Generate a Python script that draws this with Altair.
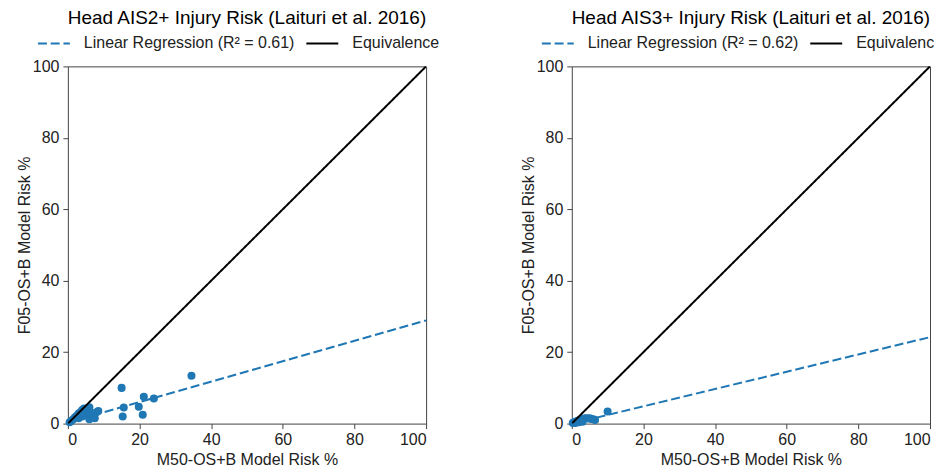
import altair as alt
import pandas as pd

# ---- data ----
ais2_x = [0.5, 1.0, 1.5, 2.0, 2.5, 3.0, 3.5, 4.0, 4.5, 5.0, 5.5, 6.0, 6.5, 7.0, 7.5, 8.0, 8.5, 5.0, 4.0, 6.0, 3.0,
          15.0, 34.5, 21.2, 24.0, 15.6, 15.3, 19.8, 20.9]
ais2_y = [0.4, 0.8, 1.2, 1.8, 2.2, 2.8, 3.2, 3.8, 4.2, 4.0, 3.5, 4.6, 3.0, 2.0, 1.5, 3.2, 3.5, 2.5, 2.0, 1.2, 1.5,
          10.0, 13.4, 7.5, 7.0, 4.5, 2.0, 4.7, 2.5]

ais3_x = [0.3, 0.7, 1.0, 1.5, 2.0, 2.5, 3.0, 3.5, 4.0, 4.5, 5.0, 5.5, 6.0, 6.5, 1.0, 2.0, 3.0, 10.0]
ais3_y = [0.2, 0.4, 0.5, 0.7, 0.9, 1.0, 1.2, 1.4, 1.5, 1.4, 1.5, 1.3, 1.2, 1.0, 0.2, 0.4, 0.5, 3.4]

line_x = [0, 100]
ais2_reg_y = [0.3, 28.9]
ais3_reg_y = [0.0, 24.2]
equiv_y = [0, 100]

titles = ["Head AIS2+ Injury Risk (Laituri et al. 2016)", "Head AIS3+ Injury Risk (Laituri et al. 2016)"]
reg_labels = ["Linear Regression (R\u00b2 = 0.61)", "Linear Regression (R\u00b2 = 0.62)"]
equiv_label = "Equivalence"
ticks = [0, 20, 40, 60, 80, 100]

BLUE = "#1f77b4"
FONT = "Liberation Sans"


def panel(px, py, reg_y, title, reg_label):
    pts = pd.DataFrame({"x": px, "y": py})
    lines = pd.DataFrame({
        "x": line_x + line_x,
        "y": reg_y + equiv_y,
        "series": [reg_label, reg_label, equiv_label, equiv_label],
    })
    xs = alt.Scale(domain=[0, 100], nice=False, zero=False)
    ys = alt.Scale(domain=[0, 100], nice=False, zero=False)
    xax = alt.Axis(values=ticks, title="M50-OS+B Model Risk %", grid=False)
    yax = alt.Axis(values=ticks, title="F05-OS+B Model Risk %", grid=False)
    leg = alt.Legend(title=None, orient="none", direction="horizontal", legendX=-31, legendY=-40)

    points = alt.Chart(pts).mark_circle(size=65, opacity=1, color=BLUE).encode(
        x=alt.X("x:Q", scale=xs, axis=xax),
        y=alt.Y("y:Q", scale=ys, axis=yax),
    )
    ln = alt.Chart(lines).mark_line(strokeWidth=2, clip=True).encode(
        x=alt.X("x:Q", scale=xs, axis=xax),
        y=alt.Y("y:Q", scale=ys, axis=yax),
        detail="series:N",
        color=alt.Color("series:N",
                        scale=alt.Scale(domain=[reg_label, equiv_label], range=[BLUE, "black"]),
                        legend=leg),
        strokeDash=alt.StrokeDash("series:N",
                                  scale=alt.Scale(domain=[reg_label, equiv_label],
                                                  range=[[9, 3.8], [1, 0]]),
                                  legend=leg),
    )
    return alt.layer(points, ln).properties(
        width=359, height=358,
        title=alt.TitleParams(title, fontSize=19, font=FONT, fontWeight="normal",
                              anchor="middle", frame="group", offset=-2, color="black"),
    ).resolve_scale(color="independent", strokeDash="independent")


left = panel(ais2_x, ais2_y, ais2_reg_y, titles[0], reg_labels[0])
right = panel(ais3_x, ais3_y, ais3_reg_y, titles[1], reg_labels[1])

chart = alt.hconcat(left, right, spacing=78).resolve_scale(
    color="independent", strokeDash="independent"
).resolve_legend(color="independent", strokeDash="independent").properties(
    padding={"left": 7, "top": 0, "right": -11, "bottom": 0}
).configure_view(
    stroke="#444", strokeWidth=1
).configure_axis(
    domain=False, tickColor="#444", tickSize=5, tickWidth=1,
    labelFont=FONT, labelFontSize=16, labelColor="#222", labelPadding=4,
    titleFont=FONT, titleFontSize=16, titleColor="#222", titleFontWeight="normal",
).configure_axisX(titlePadding=4, labelPadding=3).configure_axisY(titlePadding=0).configure_legend(
    labelFont=FONT, labelFontSize=16, labelColor="#222", symbolType="stroke",
    symbolSize=1024, symbolStrokeWidth=2, labelOffset=13, columnPadding=7, labelLimit=400,
)

chart.save("out.html", embed_options={"renderer": "svg", "actions": False})
